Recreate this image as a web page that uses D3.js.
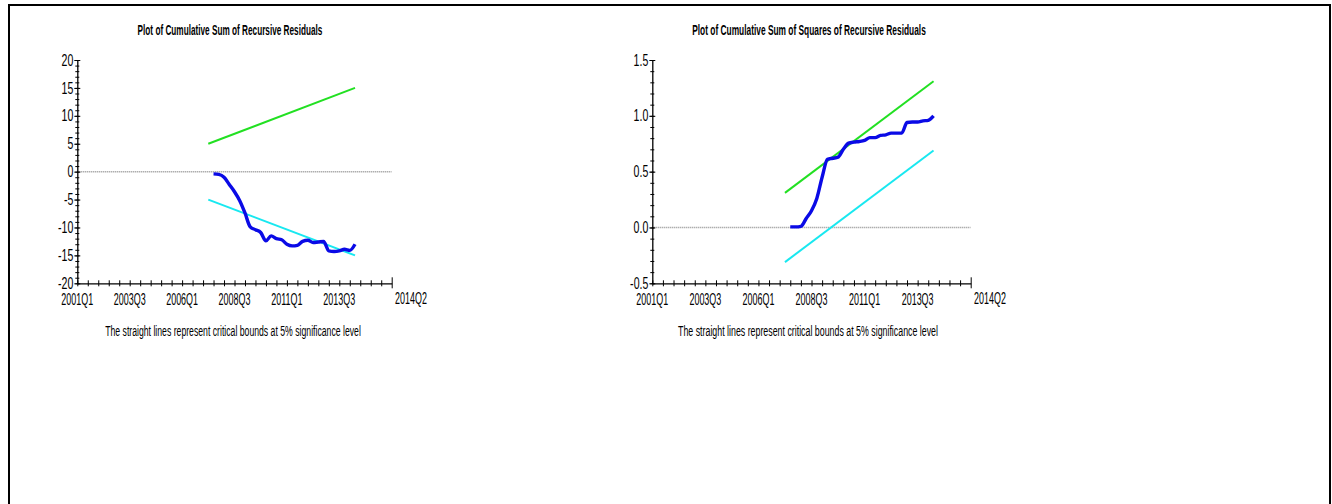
<!DOCTYPE html>
<html>
<head>
<meta charset="utf-8">
<script src="https://cdn.jsdelivr.net/npm/d3@7"></script>
<style>
  html, body { margin: 0; padding: 0; background: #fff; }
  svg { display: block; }
  text { font-family: "Liberation Sans", Arial, sans-serif; fill: #000; }
</style>
</head>
<body>
<svg id="chart" width="1332" height="504"></svg>
<script>
// Quarterly periods, counted from 2001Q1 (index 0)
const axisLabels = ["2001Q1", "2003Q3", "2006Q1", "2008Q3", "2011Q1", "2013Q3"];
const axisLabelIndex = [0, 10, 20, 30, 40, 50];
const lastLabel = "2014Q2";

// Recursive-residual periods 2007Q3 .. 2014Q2
const periods = ["2007Q3","2007Q4","2008Q1","2008Q2","2008Q3","2008Q4","2009Q1","2009Q2",
  "2009Q3","2009Q4","2010Q1","2010Q2","2010Q3","2010Q4","2011Q1","2011Q2","2011Q3","2011Q4",
  "2012Q1","2012Q2","2012Q3","2012Q4","2013Q1","2013Q2","2013Q3","2013Q4","2014Q1","2014Q2"];

// CUSUM of recursive residuals
const cusum = [-0.4, -0.5, -1.0, -2.3, -3.6, -5.2, -7.4, -9.9, -10.4, -10.9, -12.4, -11.5,
  -12.0, -12.2, -13.0, -13.3, -13.2, -12.5, -12.3, -12.7, -12.6, -12.5, -14.2, -14.3,
  -14.2, -13.9, -14.1, -13.0];

// CUSUM of squares of recursive residuals
const cusumsq = [0.005, 0.005, 0.01, 0.08, 0.15, 0.26, 0.45, 0.61, 0.62, 0.63, 0.70, 0.755,
  0.765, 0.77, 0.78, 0.805, 0.805, 0.825, 0.83, 0.845, 0.845, 0.845, 0.94, 0.945,
  0.945, 0.955, 0.96, 1.0];

// 5% critical bounds (straight lines between 2007Q2 and 2014Q2)
const boundPeriods = ["2007Q2", "2014Q2"];
const cusumUpper = [5, 15];
const cusumLower = [-5, -15];
const cusumsqUpper = [0.31, 1.31];
const cusumsqLower = [-0.31, 0.69];

const cusumTicks = [-20, -15, -10, -5, 0, 5, 10, 15, 20];
const cusumsqTicks = [-0.5, 0.0, 0.5, 1.0, 1.5];

const footnote = "The straight lines represent critical bounds at 5% significance level";

function qIndex(q) {
  return (+q.slice(0, 4) - 2001) * 4 + (+q.slice(5) - 1);
}

const svg = d3.select("#chart");

// outer frame
svg.append("rect").attr("x", 9).attr("y", 5).attr("width", 1321).attr("height", 510)
  .attr("fill", "none").attr("stroke", "#000").attr("stroke-width", 2);

// squeeze text horizontally (narrow face) around its own anchor point
function squeeze(sel, factor, width) {
  sel.each(function () {
    const t = d3.select(this);
    const f = width ? width / this.getComputedTextLength() : factor;
    const x = +t.attr("x") || 0, y = +t.attr("y") || 0;
    t.attr("x", 0).attr("y", 0).attr("transform", `translate(${x},${y}) scale(${f},1)`);
  });
}

function panel(opt) {
  const g = svg.append("g");
  const x = d3.scaleLinear().domain([0, 60]).range([opt.x0, opt.x1]);
  const y = d3.scaleLinear().domain(opt.yDomain).range([283.3, 60]);

  // title
  const t = g.append("text").attr("x", opt.titleX).attr("y", 35)
    .attr("text-anchor", "middle").attr("font-weight", "bold").attr("font-size", 14)
    .text(opt.title);
  squeeze(t, null, opt.titleW);

  // zero reference line
  g.append("line").attr("x1", x(0)).attr("x2", x(60)).attr("y1", y(0)).attr("y2", y(0))
    .attr("stroke", "#8c8c8c").attr("stroke-width", 1.5).attr("stroke-dasharray", "1,1");

  // y axis: major labelled ticks
  const ya = g.append("g").attr("transform", `translate(${opt.x0},0)`)
    .call(d3.axisLeft(y).tickValues(opt.yTicks).tickSize(3).tickSizeOuter(0)
      .tickFormat(opt.yFormat));
  ya.select(".domain").attr("stroke", "#000").attr("stroke-width", 1.3);
  ya.selectAll(".tick line").attr("x1", -3).attr("x2", 3).attr("stroke", "#000");
  ya.selectAll(".tick text").attr("x", -4).attr("font-size", 16)
    .attr("font-family", "Liberation Sans, Arial, sans-serif");
  squeeze(ya.selectAll(".tick text"), 0.66);

  // y axis minor ticks
  const ya2 = g.append("g").attr("transform", `translate(${opt.x0},0)`)
    .call(d3.axisLeft(y).tickValues(opt.yMinor).tickSize(2).tickSizeOuter(0).tickFormat(""));
  ya2.select(".domain").remove();
  ya2.selectAll(".tick line").attr("x1", -2).attr("x2", 2).attr("stroke", "#000");

  // x axis: ticks every second quarter
  const xa = g.append("g").attr("transform", `translate(0,${y(opt.yDomain[0])})`)
    .call(d3.axisBottom(x).tickValues(d3.range(0, 61, 2)).tickSize(3).tickSizeOuter(0)
      .tickFormat(""));
  xa.select(".domain").attr("stroke", "#000").attr("stroke-width", 1.3);
  xa.selectAll(".tick line").attr("y1", -3).attr("y2", 3).attr("stroke", "#000");
  xa.selectAll(".tick").filter(d => d === 60).select("line").attr("y1", -6).attr("y2", 5);

  const xl = g.append("g").selectAll("text").data(axisLabelIndex).join("text")
    .attr("x", d => x(d)).attr("y", 305).attr("text-anchor", "middle").attr("font-size", 16)
    .text((d, i) => axisLabels[i]);
  squeeze(xl, 0.56);
  const ll = g.append("text").attr("x", opt.lastX).attr("y", 304).attr("text-anchor", "middle")
    .attr("font-size", 16).text(lastLabel);
  squeeze(ll, 0.56);

  // critical bounds
  const bline = d3.line().x((d, i) => x(qIndex(boundPeriods[i]))).y(d => y(d));
  g.append("path").datum(opt.upper).attr("d", bline).attr("fill", "none")
    .attr("stroke", "#22e022").attr("stroke-width", 2);
  g.append("path").datum(opt.lower).attr("d", bline).attr("fill", "none")
    .attr("stroke", "#18e8f0").attr("stroke-width", 2);

  // statistic
  const sline = d3.line().x((d, i) => x(qIndex(periods[i]))).y(d => y(d))
    .curve(d3.curveMonotoneX);
  g.append("path").datum(opt.values).attr("d", sline).attr("fill", "none")
    .attr("stroke", "#0a0ae6").attr("stroke-width", 3.4).attr("stroke-linejoin", "round");

  // footnote
  const f = g.append("text").attr("x", opt.footX).attr("y", 336).attr("text-anchor", "middle")
    .attr("font-size", 15.5).text(footnote);
  squeeze(f, null, opt.footW);
}

panel({
  title: "Plot of Cumulative Sum of Recursive Residuals", titleX: 230, titleW: 185,
  x0: 77.3, x1: 391.7, lastX: 411,
  yDomain: [-20, 20], yTicks: cusumTicks, yMinor: d3.range(-20, 21, 1),
  yFormat: d => String(d),
  upper: cusumUpper, lower: cusumLower, values: cusum,
  footX: 233, footW: 256
});

panel({
  title: "Plot of Cumulative Sum of Squares of Recursive Residuals", titleX: 809, titleW: 234,
  x0: 652.3, x1: 970.7, lastX: 990,
  yDomain: [-0.5, 1.5], yTicks: cusumsqTicks, yMinor: d3.range(-5, 16, 1).map(v => v / 10),
  yFormat: d => d.toFixed(1),
  upper: cusumsqUpper, lower: cusumsqLower, values: cusumsq,
  footX: 808, footW: 260
});
</script>
</body>
</html>
